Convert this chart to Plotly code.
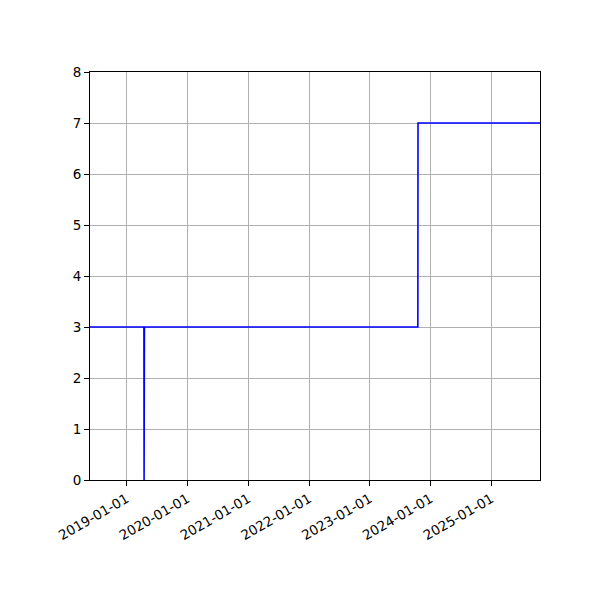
import pandas as pd
import plotly.graph_objects as go

# step series
dates = ["2018-05-26", "2019-04-15", "2019-04-16", "2019-04-18",
         "2023-10-17", "2023-10-18", "2025-10-20"]
values = [3, 3, 0, 3, 3, 7, 7]

tick_dates = ["2019-01-01", "2020-01-01", "2021-01-01", "2022-01-01",
              "2023-01-01", "2024-01-01", "2025-01-01"]

df = pd.DataFrame({"date": pd.to_datetime(dates), "value": values})

fig = go.Figure()
fig.add_trace(go.Scatter(
    x=df["date"], y=df["value"],
    mode="lines",
    line=dict(color="blue", width=1.6),
    showlegend=False,
))

axis_style = dict(
    showline=True, linecolor="black", linewidth=1, mirror=True,
    ticks="outside", ticklen=5, tickcolor="black",
    showgrid=True, gridcolor="#b0b0b0", gridwidth=1,
    zeroline=False, automargin=False,
)

# page body adds 8px, so margins are shifted to compensate
fig.update_layout(
    width=600, height=600,
    margin=dict(l=82, r=68, t=64, b=128),
    plot_bgcolor="white", paper_bgcolor="white",
    font=dict(family="DejaVu Sans", size=13.5, color="black"),
    xaxis=dict(
        range=[dates[0], dates[-1]],
        tickvals=tick_dates, ticktext=tick_dates,
        tickangle=-30,
        **axis_style,
    ),
    yaxis=dict(
        range=[0, 8], dtick=1,
        **axis_style,
    ),
)

fig.write_html("out.html")
